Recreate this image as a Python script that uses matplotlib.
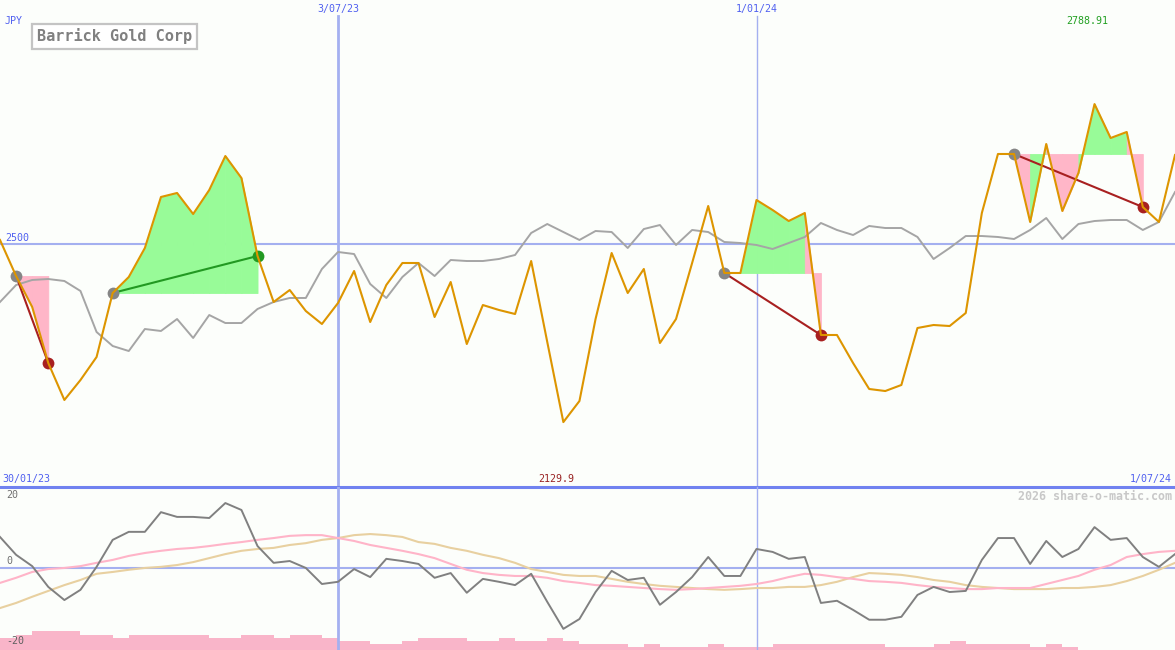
import numpy as np
import pandas as pd
import matplotlib
matplotlib.use('Agg')
import matplotlib.pyplot as plt
import matplotlib.dates as mdates
import matplotlib.transforms as mtransforms

plt.rcParams['font.family'] = ['DejaVu Sans Mono']

# weekly closes, JPY
dates = pd.date_range(end='2024-07-01', periods=74, freq='7D')
price = [2507.3, 2432.6, 2368.4, 2252.3, 2175.7, 2217.1, 2264.8, 2397.4, 2430.6, 2490.7,
         2596.4, 2604.7, 2561.1, 2610.9, 2681.3, 2635.7, 2474.1, 2378.8, 2403.6, 2360.1,
         2333.2, 2376.7, 2443.0, 2337.3, 2414.0, 2459.6, 2459.6, 2347.7, 2420.2, 2291.7,
         2372.5, 2362.2, 2353.9, 2463.7, 2295.9, 2129.9, 2173.6, 2343.5, 2480.3, 2397.4,
         2447.2, 2293.8, 2343.5, 2459.6, 2577.7, 2438.9, 2438.9, 2590.1, 2569.4, 2546.6,
         2563.2, 2310.4, 2310.4, 2252.3, 2198.5, 2194.3, 2206.8, 2324.9, 2331.1, 2329.0,
         2356.0, 2563.2, 2685.5, 2685.5, 2544.6, 2706.2, 2567.4, 2646.1, 2788.91, 2718.6,
         2731.1, 2575.6, 2544.6, 2683.4]
# market index, rescaled onto the price axis
index_line = [2378.8, 2414.0, 2424.4, 2426.4, 2422.3, 2401.6, 2316.6, 2287.6, 2277.2, 2322.8,
              2318.7, 2343.5, 2304.2, 2351.8, 2335.2, 2335.2, 2364.3, 2378.8, 2387.1, 2387.1,
              2447.2, 2482.4, 2478.2, 2416.1, 2387.1, 2430.6, 2459.6, 2432.6, 2465.8, 2463.7,
              2463.7, 2467.9, 2476.2, 2521.8, 2540.4, 2523.8, 2507.3, 2525.9, 2523.8, 2490.7,
              2530.0, 2538.3, 2496.9, 2528.0, 2523.8, 2503.1, 2501.0, 2496.9, 2488.6, 2501.0,
              2513.5, 2542.5, 2528.0, 2517.6, 2536.3, 2532.1, 2532.1, 2513.5, 2467.9, 2490.7,
              2515.5, 2515.5, 2513.5, 2509.3, 2528.0, 2552.8, 2509.3, 2540.4, 2546.6, 2548.7,
              2548.7, 2528.0, 2544.6, 2606.7]
momentum = [8.5, 3.6, 0.5, -5.2, -8.8, -6.0, 0.3, 7.7, 9.9, 9.9,
            15.3, 14.0, 14.0, 13.7, 17.8, 15.9, 6.0, 1.4, 1.9, 0.0,
            -4.4, -3.8, -0.3, -2.5, 2.5, 1.9, 1.1, -2.7, -1.4, -6.8,
            -3.0, -3.8, -4.7, -1.6, -9.3, -16.7, -14.0, -6.6, -0.8, -3.3,
            -2.7, -10.1, -6.6, -2.5, 3.0, -2.2, -2.2, 5.2, 4.4, 2.5,
            3.0, -9.6, -9.0, -11.5, -14.2, -14.2, -13.4, -7.4, -5.2, -6.6,
            -6.3, 2.2, 8.2, 8.2, 1.1, 7.4, 3.0, 5.2, 11.2, 7.7,
            8.2, 3.0, 0.3, 3.8]
avg_fast = [-4.1, -2.7, -1.1, -0.3, 0.0, 0.5, 1.4, 2.2, 3.3, 4.1,
            4.7, 5.2, 5.5, 6.0, 6.6, 7.1, 7.7, 8.2, 8.8, 9.0,
            9.0, 8.2, 7.4, 6.3, 5.5, 4.7, 3.8, 2.7, 1.1, -0.5,
            -1.4, -1.9, -2.2, -2.2, -2.7, -3.6, -4.1, -4.7, -4.9, -5.2,
            -5.5, -5.8, -6.0, -5.8, -5.5, -5.2, -4.9, -4.4, -3.6, -2.5,
            -1.6, -1.9, -2.5, -3.0, -3.6, -3.8, -4.1, -4.7, -5.2, -5.5,
            -5.8, -5.8, -5.5, -5.5, -5.5, -4.4, -3.3, -2.2, -0.5, 0.8,
            3.0, 3.8, 4.4, 4.7]
avg_slow = [-11.0, -9.6, -7.9, -6.3, -4.7, -3.3, -1.6, -1.1, -0.5, 0.0,
            0.3, 0.8, 1.6, 2.7, 3.8, 4.7, 5.2, 5.5, 6.3, 6.8,
            7.7, 8.2, 9.0, 9.3, 9.0, 8.5, 7.1, 6.6, 5.5, 4.7,
            3.6, 2.7, 1.4, -0.3, -1.1, -1.9, -2.2, -2.2, -3.0, -3.8,
            -4.4, -4.9, -5.2, -5.5, -5.8, -6.0, -5.8, -5.5, -5.5, -5.2,
            -5.2, -4.7, -3.8, -2.5, -1.4, -1.6, -1.9, -2.5, -3.3, -3.8,
            -4.7, -5.2, -5.5, -5.8, -5.8, -5.8, -5.5, -5.5, -5.2, -4.7,
            -3.6, -2.2, -0.5, 1.4]
volume = [4, 5, 6.3, 6.3, 6.3, 5, 5, 4, 5, 5,
          5, 5, 5, 4, 4, 5, 5, 4, 5, 5,
          4, 3, 3, 2, 2, 3, 4, 4, 4, 3,
          3, 4, 3, 3, 4, 3, 2, 2, 2, 1,
          2, 1, 1, 1, 2, 1, 1, 1, 2, 2,
          2, 2, 2, 2, 2, 1, 1, 1, 2, 3,
          2, 2, 2, 2, 1, 2, 1, 0, 0, 0,
          0, 0, 0, 0]
trends = [(1, 3), (7, 16), (45, 51), (63, 71)]
date_marks = ['2023-07-03', '2024-01-01']
date_mark_labels = ['3/07/23', '1/01/24']
date_mark_widths = [2.0, 1.0]

price = np.array(price)
BG = '#FCFEFB'
BLUE = '#5060F0'
GRID = '#A4B0F0'
GREEN_FILL = '#98FB98'
PINK_FILL = '#FFB6C8'

fig = plt.figure(figsize=(11.75, 6.5), dpi=100, facecolor=BG)
ax = fig.add_axes([0, 163 / 650, 1, 487 / 650])
ax2 = fig.add_axes([0, 0, 1, 163 / 650])
axv = ax2.twinx()
ax2.set_zorder(axv.get_zorder() + 1)
ax2.patch.set_visible(False)
ax.set_facecolor(BG)
axv.set_facecolor(BG)

for a in (ax, ax2, axv):
    a.set_xlim(dates[0], dates[-1])
    a.set_xticks([])
    a.set_yticks([])
    for s in a.spines.values():
        s.set_visible(False)
ax.spines['bottom'].set_visible(True)
ax.spines['bottom'].set_color('#7082F0')
ax.spines['bottom'].set_linewidth(2.2)
ax.spines['bottom'].set_zorder(10)

ax.set_ylim(1995.4, 3004.6)
ax2.set_ylim(-22.5, 22.2)
axv.set_ylim(0, 54.3)

bt = mtransforms.blended_transform_factory(ax.transData, ax.transAxes)

# reference lines
ax.axhline(2500, color=GRID, lw=1.5, zorder=1)
ax2.axhline(0, color=GRID, lw=1.5, zorder=1)
for d, lab, w in zip(date_marks, date_mark_labels, date_mark_widths):
    d = pd.Timestamp(d)
    ax.axvline(d, ymax=1 - 16 / 487, color=GRID, lw=w, zorder=1)
    ax2.axvline(d, color=GRID, lw=w, zorder=1)
    ax.text(mdates.date2num(d), 1 - 9 / 487, lab, transform=bt,
            ha='center', va='center', color=BLUE, fontsize=7.2)

# trend segments: each week's slice coloured by where that week closed vs the start level
for s, e in trends:
    level = price[s]
    for j in range(s, e):
        if price[j] == level and price[j + 1] == level:
            continue
        c_fill = GREEN_FILL if price[j + 1] > level else PINK_FILL
        ax.fill_between(dates[j:j + 2], price[j:j + 2], level, facecolor=c_fill,
                        edgecolor=c_fill, lw=0.6, zorder=2)
    c = '#229922' if price[e] > price[s] else '#A82020'
    ax.plot([dates[s], dates[e]], [price[s], price[e]], color=c, lw=1.5, zorder=4)
    ax.plot(dates[s], price[s], 'o', color='#858585', ms=8.5, mec='none', zorder=5)
    ax.plot(dates[e], price[e], 'o', color=c, ms=8.5, mec='none', zorder=5)

ax.plot(dates, index_line, color='#A5A5A5', lw=1.4, zorder=3)
ax.plot(dates, price, color='#DD9500', lw=1.5, zorder=6)

# labels on the price panel
ax.text(5 / 1175, 1 - 21 / 487, 'JPY', transform=ax.transAxes, color=BLUE, fontsize=7.2, va='center')
ax.text(37 / 1175, 1 - 36.5 / 487, 'Barrick Gold Corp', transform=ax.transAxes, fontsize=11,
        color='#808080', va='center', fontweight='bold', zorder=9,
        bbox=dict(boxstyle='square,pad=0.3', fc='white', ec='#C4C4C4', lw=1.6))
ax.text(5 / 1175, 2500, '2500', transform=mtransforms.blended_transform_factory(ax.transAxes, ax.transData),
        color=BLUE, fontsize=7.2, va='bottom')
ax.text(2 / 1175, 1 - 479 / 487, '30/01/23', transform=ax.transAxes, color=BLUE, fontsize=7.2, va='center')
ax.text(1 - 3 / 1175, 1 - 479 / 487, '1/07/24', transform=ax.transAxes, color=BLUE, fontsize=7.2,
        va='center', ha='right')
imin = int(np.argmin(price))
imax = int(np.argmax(price))
ax.annotate(f'{price[imin]:.1f}', xy=(mdates.date2num(dates[imin]), 1 - 479 / 487), xycoords=bt,
            xytext=(-5, 0), textcoords='offset points', ha='center', va='center',
            color='#992222', fontsize=7.2)
ax.annotate(f'{price[imax]:.2f}', xy=(mdates.date2num(dates[imax]), 1 - 21 / 487), xycoords=bt,
            xytext=(-5, 0), textcoords='offset points', ha='center', va='center',
            color='#22A022', fontsize=7.2)

# oscillator panel
axv.bar(dates, volume, width=7, align='edge', color='#F9B5C9', lw=0)
ax2.plot(dates, avg_slow, color='#E8D0A0', lw=1.5, zorder=3)
ax2.plot(dates, avg_fast, color='#FFB4C8', lw=1.5, zorder=3)
ax2.plot(dates, momentum, color='#808080', lw=1.4, zorder=4)
yt = mtransforms.blended_transform_factory(ax2.transAxes, ax2.transData)
ax2.text(6 / 1175, 20, '20', transform=yt, color='#707070', fontsize=7.2, va='center')
ax2.text(6 / 1175, 0.6, '0', transform=yt, color='#707070', fontsize=7.2, va='bottom')
ax2.text(6 / 1175, -20, '-20', transform=yt, color='#606060', fontsize=7.2, va='center')
ax2.text(1 - 3 / 1175, (650 - 496) / 163, '2026 share-o-matic.com', transform=ax2.transAxes,
         ha='right', va='center', color='#C8C8C8', fontsize=8.4, fontweight='bold')

fig.savefig('out.png', dpi=100, facecolor=BG)
